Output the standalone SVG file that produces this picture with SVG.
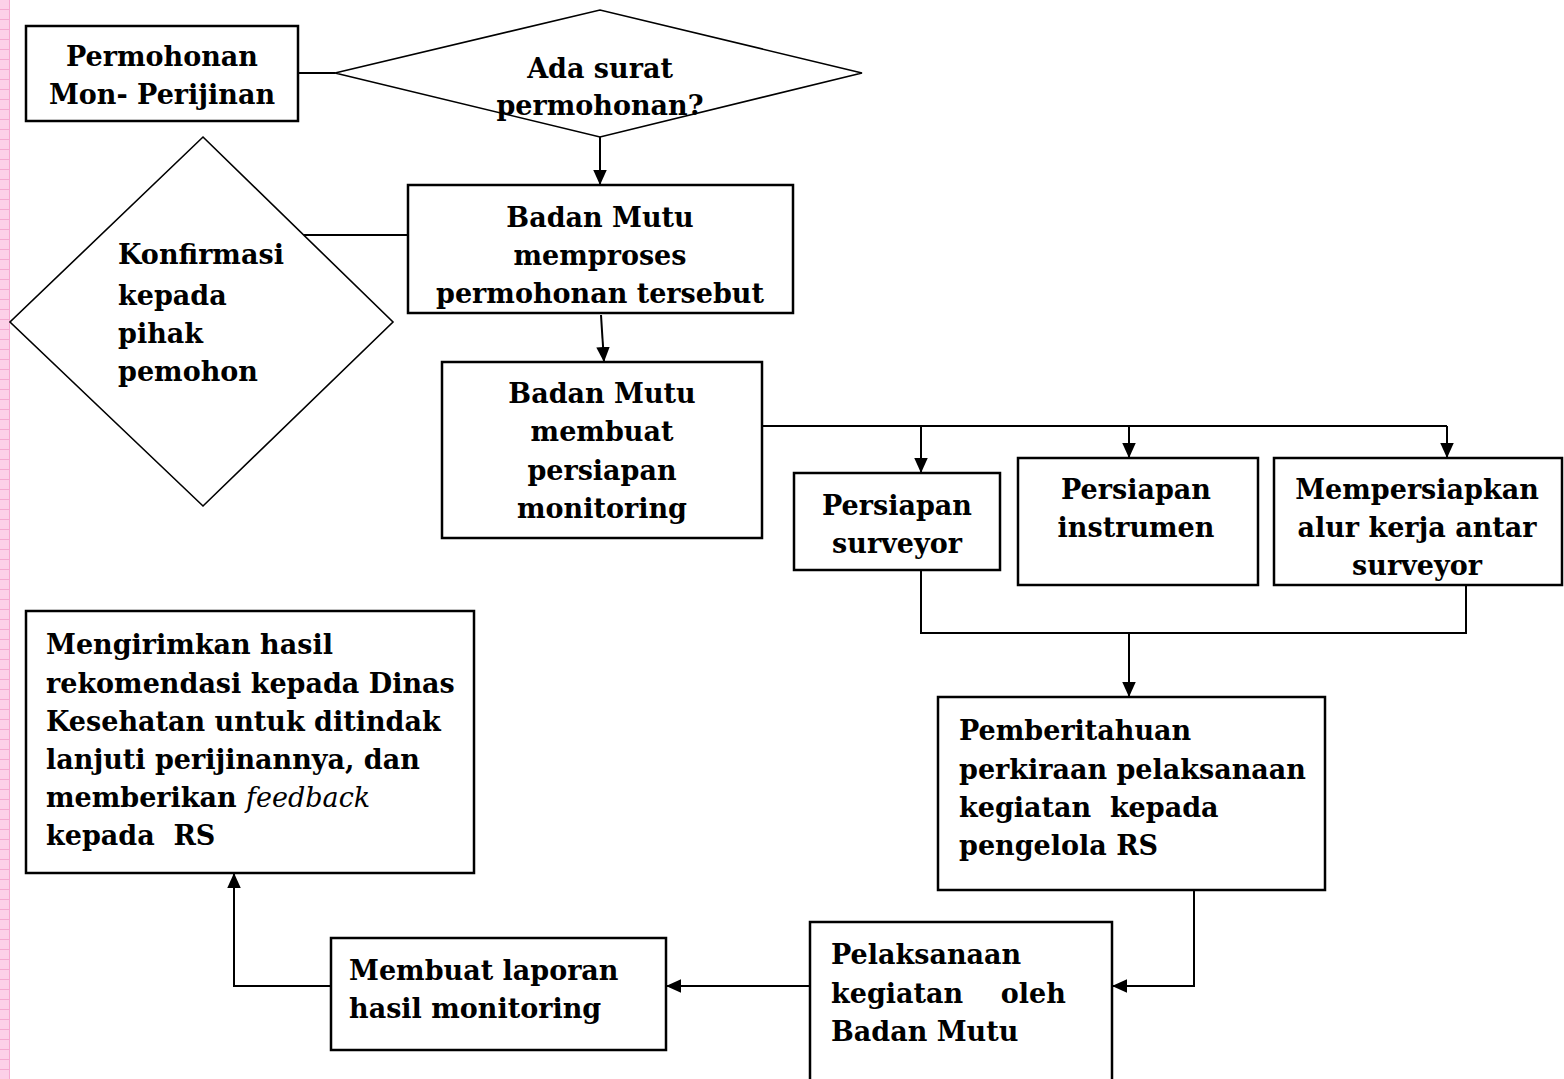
<svg xmlns="http://www.w3.org/2000/svg" width="1564" height="1079" viewBox="0 0 1564 1079">
<style>
.box{fill:#fff;stroke:#000;stroke-width:2.5}
.dia{fill:#fff;stroke:#000;stroke-width:1.6}
.ln{fill:none;stroke:#000;stroke-width:2}
.t{font-family:"DejaVu Serif","Liberation Serif",serif;font-weight:bold;font-size:27px;fill:#000}
.c{text-anchor:middle}
</style>
<defs>
<pattern id="pk" width="10" height="10" patternUnits="userSpaceOnUse">
<rect width="10" height="10" fill="#fcd0e8"/>
<path d="M0 9.5H10M9.5 0V10" stroke="#f4a8d0" stroke-width="1"/>
</pattern>
<marker id="ah" viewBox="0 0 10 10" refX="10" refY="5" markerWidth="15" markerHeight="15" markerUnits="userSpaceOnUse" orient="auto">
<path d="M0 0.5L10 5L0 9.5Z" fill="#000"/>
</marker>
</defs>
<rect width="1564" height="1079" fill="#fff"/>
<rect x="0" y="0" width="10" height="1079" fill="url(#pk)"/>

<g id="connectors">
<path class="ln" d="M298 73H335"/>
<path class="ln" d="M600 137V185" marker-end="url(#ah)"/>
<path class="ln" d="M408 235H298"/>
<path class="ln" d="M601 315L604 362" marker-end="url(#ah)"/>
<path class="ln" d="M762 426H1447"/>
<path class="ln" d="M921 426V473" marker-end="url(#ah)"/>
<path class="ln" d="M1129 426V458" marker-end="url(#ah)"/>
<path class="ln" d="M1447 426V458" marker-end="url(#ah)"/>
<path class="ln" d="M921 570V633H1466V585"/>
<path class="ln" d="M1129 633V697" marker-end="url(#ah)"/>
<path class="ln" d="M1194 890V986H1112" marker-end="url(#ah)"/>
<path class="ln" d="M810 986H666" marker-end="url(#ah)"/>
<path class="ln" d="M331 986H234V873" marker-end="url(#ah)"/>
</g>

<g id="n1">
<rect class="box" x="26" y="26" width="272" height="95"/>
<text class="t c" x="162" y="66">Permohonan</text>
<text class="t c" x="162" y="104">Mon- Perijinan</text>
</g>
<g id="n2">
<polygon class="dia" points="335,73 600,10 862,73 600,137"/>
<text class="t c" x="600" y="78">Ada surat</text>
<text class="t c" x="600" y="115">permohonan?</text>
</g>
<g id="n3">
<rect class="box" x="408" y="185" width="385" height="128"/>
<text class="t c" x="600" y="227">Badan Mutu</text>
<text class="t c" x="600" y="265">memproses</text>
<text class="t c" x="600" y="303">permohonan tersebut</text>
</g>
<g id="n4">
<polygon class="dia" points="203,137 393,322 203,506 10,322"/>
<text class="t" x="118" y="264">Konfirmasi</text>
<text class="t" x="118" y="305">kepada</text>
<text class="t" x="118" y="343">pihak</text>
<text class="t" x="118" y="381">pemohon</text>
</g>
<g id="n5">
<rect class="box" x="442" y="362" width="320" height="176"/>
<text class="t c" x="602" y="403">Badan Mutu</text>
<text class="t c" x="602" y="441">membuat</text>
<text class="t c" x="602" y="480">persiapan</text>
<text class="t c" x="602" y="518">monitoring</text>
</g>
<g id="n6">
<rect class="box" x="794" y="473" width="206" height="97"/>
<text class="t c" x="897" y="515">Persiapan</text>
<text class="t c" x="897" y="553">surveyor</text>
</g>
<g id="n7">
<rect class="box" x="1018" y="458" width="240" height="127"/>
<text class="t c" x="1136" y="499">Persiapan</text>
<text class="t c" x="1136" y="537">instrumen</text>
</g>
<g id="n8">
<rect class="box" x="1274" y="458" width="288" height="127"/>
<text class="t c" x="1417" y="499">Mempersiapkan</text>
<text class="t c" x="1417" y="537">alur kerja antar</text>
<text class="t c" x="1417" y="575">surveyor</text>
</g>
<g id="n9">
<rect class="box" x="938" y="697" width="387" height="193"/>
<text class="t" x="959" y="740">Pemberitahuan</text>
<text class="t" x="959" y="779">perkiraan pelaksanaan</text>
<text class="t" x="959" y="817" xml:space="preserve">kegiatan  kepada</text>
<text class="t" x="959" y="855">pengelola RS</text>
</g>
<g id="n10">
<rect class="box" x="810" y="922" width="302" height="180"/>
<text class="t" x="831" y="964">Pelaksanaan</text>
<text class="t" x="831" y="1003" xml:space="preserve">kegiatan    oleh</text>
<text class="t" x="831" y="1041">Badan Mutu</text>
</g>
<g id="n11">
<rect class="box" x="331" y="938" width="335" height="112"/>
<text class="t" x="349" y="980">Membuat laporan</text>
<text class="t" x="349" y="1018">hasil monitoring</text>
</g>
<g id="n12">
<rect class="box" x="26" y="611" width="448" height="262"/>
<text class="t" x="46" y="654">Mengirimkan hasil</text>
<text class="t" x="46" y="693">rekomendasi kepada Dinas</text>
<text class="t" x="46" y="731">Kesehatan untuk ditindak</text>
<text class="t" x="46" y="769">lanjuti perijinannya, dan</text>
<text class="t" x="46" y="807">memberikan <tspan font-style="italic" font-weight="normal">feedback</tspan></text>
<text class="t" x="46" y="845" xml:space="preserve">kepada  RS</text>
</g>
</svg>
